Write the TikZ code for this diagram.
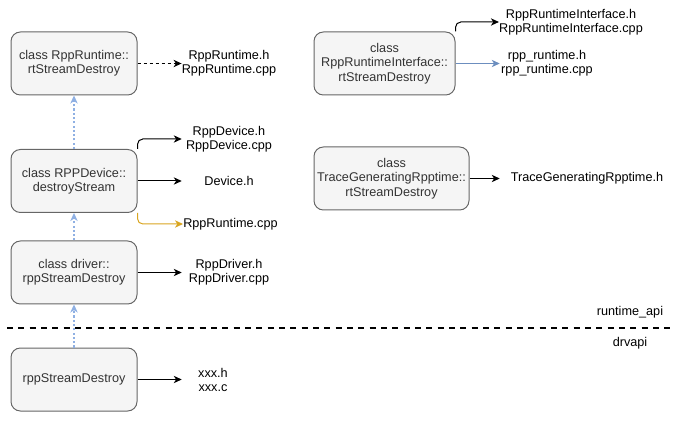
\documentclass[tikz,border=0pt]{standalone}
\usepackage{fontspec}
\setmainfont{Liberation Sans}
\usetikzlibrary{arrows.meta}
\definecolor{boxfill}{HTML}{F5F5F5}
\definecolor{boxline}{HTML}{666666}
\definecolor{boxtext}{HTML}{333333}
\definecolor{callblue}{HTML}{8FB0E3}
\definecolor{linkblue}{HTML}{6C8EBF}
\definecolor{gold}{HTML}{D9A520}
\tikzset{
  x=0.75pt, y=-0.75pt,
  every node/.style={font=\fontsize{9.5pt}{10.8pt}\selectfont},
  fbox/.style={draw=boxline, fill=boxfill, rounded corners=7pt, line width=0.75pt,
    text=boxtext, align=center, minimum height=47.25pt, inner sep=2pt},
  flabel/.style={align=center, inner sep=0pt, text=black},
  arr/.style={-{Stealth[length=6pt,width=5.5pt,inset=1.8pt]}, line width=0.75pt, black},
  callarr/.style={-{Stealth[length=6pt,width=5.5pt,inset=1.8pt]}, line width=1.1pt, callblue,
    dash pattern=on 1.6pt off 1.6pt},
}
\begin{document}
\begin{tikzpicture}
\useasboundingbox (0,0) rectangle (679,424);
% boxes
\node[fbox, minimum width=94.5pt] (A) at (74,63.5) {class RppRuntime::\\rtStreamDestroy};
\node[fbox, minimum width=94.5pt] (B) at (74,181) {class RPPDevice::\\destroyStream};
\node[fbox, minimum width=94.5pt] (C) at (74,272.5) {class driver::\\rppStreamDestroy};
\node[fbox, minimum width=94.5pt] (D) at (74,379.5) {rppStreamDestroy};
\node[fbox, minimum width=105.75pt] (E) at (384.5,63.5) {class\\RppRuntimeInterface::\\rtStreamDestroy};
\node[fbox, minimum width=116.25pt] (F) at (391.5,178.5) {class\\TraceGeneratingRpptime::\\rtStreamDestroy};
% labels
\node[flabel, minimum width=70.5pt] (lA) at (229,63.5) {RppRuntime.h\\RppRuntime.cpp};
\node[flabel, minimum width=70.5pt] (lB1) at (229,139) {RppDevice.h\\RppDevice.cpp};
\node[flabel, minimum width=70.5pt] (lB2) at (229,181) {Device.h};
\node[flabel, anchor=west] (lB3) at (183,224) {RppRuntime.cpp};
\node[flabel, minimum width=70.5pt] (lC) at (229,272) {RppDriver.h\\RppDriver.cpp};
\node[flabel, minimum width=46.5pt] (lD) at (213,380) {xxx.h\\xxx.c};
\node[flabel, minimum width=106.5pt] (lE1) at (571,22) {RppRuntimeInterface.h\\RppRuntimeInterface.cpp};
\node[flabel, minimum width=70.5pt] (lE2) at (547,63.5) {rpp\_runtime.h\\rpp\_runtime.cpp};
\node[flabel, minimum width=130.5pt] (lF) at (587,178.5) {TraceGeneratingRpptime.h};
\node[flabel] (rapi) at (630,312) {runtime\_api};
\node[flabel] (dapi) at (630,343) {drvapi};
% separator
\coordinate (sepL) at (7,328);
\coordinate (sepR) at (672,328);
\draw[line width=1.5pt, dash pattern=on 4.5pt off 4pt] (sepL) -- (sepR);
% call chain
\draw[callarr] (B.north) -- (A.south);
\draw[callarr] (C.north) -- (B.south);
\draw[callarr] (D.north) -- (C.south);
% file arrows
\draw[arr, dash pattern=on 2.25pt off 2.25pt] (A.east) -- (lA.west);
\draw[arr, rounded corners=4pt] (B.north east) |- (lB1.west);
\draw[arr] (B.east) -- (lB2.west);
\draw[arr, gold, rounded corners=4pt] (B.south east) |- (lB3.west);
\draw[arr] (C.east) -- (C.east -| lC.west);
\draw[arr] (D.east) -- (D.east -| lD.west);
\draw[arr, rounded corners=4pt] (E.north east) |- (lE1.west);
\draw[arr, linkblue] (E.east) -- (lE2.west);
\draw[arr] (F.east) -- (lF.west);
\end{tikzpicture}
\end{document}
